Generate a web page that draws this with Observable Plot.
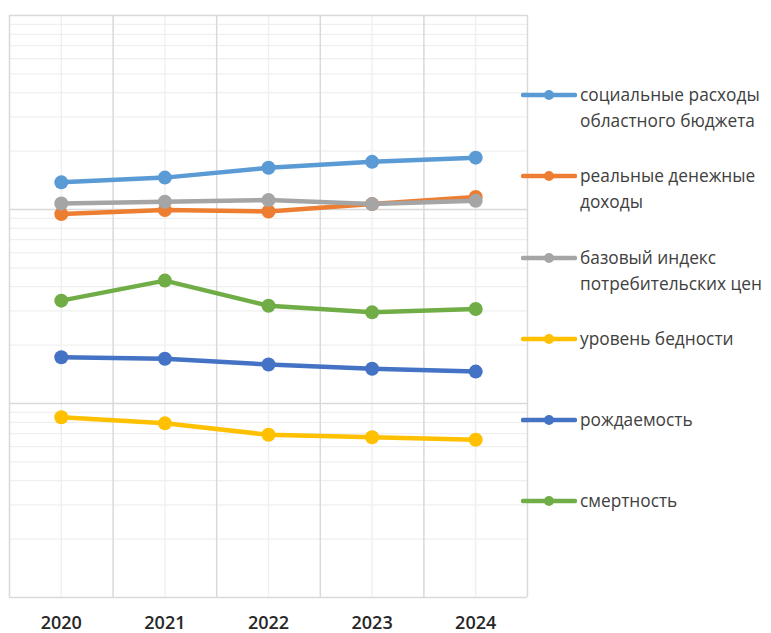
<!DOCTYPE html>
<html>
<head>
<meta charset="utf-8">
<script src="https://cdn.jsdelivr.net/npm/d3@7"></script>
<script src="https://cdn.jsdelivr.net/npm/@observablehq/plot@0.6"></script>
<style>
  html, body { margin: 0; padding: 0; background: #fff; }
  #wrap { position: relative; width: 771px; height: 633px; }
  #chart { position: absolute; left: 0; top: 0; }
  #legend { position: absolute; left: 521px; top: 82px; font-family: "Open Sans", sans-serif; font-size: 17.3px; color: #404040; }
  .item { display: flex; align-items: flex-start; height: 81.3px; }
  .item svg { flex: none; margin-top: 8px; margin-right: 3px; }
  .item span { line-height: 26px; white-space: nowrap; }
</style>
</head>
<body>
<div id="wrap">
  <div id="chart"></div>
  <div id="legend"></div>
</div>
<script>
const years = [2020, 2021, 2022, 2023, 2024];
const seriesNames = [
  "социальные расходы областного бюджета",
  "реальные денежные доходы",
  "базовый индекс потребительских цен",
  "уровень бедности",
  "рождаемость",
  "смертность"
];
const legendLines = [
  ["социальные расходы", "областного бюджета"],
  ["реальные денежные", "доходы"],
  ["базовый индекс", "потребительских цен"],
  ["уровень бедности"],
  ["рождаемость"],
  ["смертность"]
];
const seriesColors = ["#5B9BD5", "#ED7D31", "#A5A5A5", "#FFC000", "#4472C4", "#70AD47"];

const socialSpending = [138, 146, 164, 176, 185];
const realIncome = [94.7, 99.3, 97.7, 106.6, 116];
const cpiIndex = [107.4, 109.6, 111.8, 106.6, 110.8];
const povertyLevel = [8.5, 7.9, 6.9, 6.7, 6.5];
const birthRate = [17.3, 17.0, 15.9, 15.1, 14.6];
const mortality = [33.9, 43.0, 31.9, 29.5, 30.7];

const seriesValues = [socialSpending, realIncome, cpiIndex, povertyLevel, birthRate, mortality];

const data = [];
seriesNames.forEach((name, si) => {
  years.forEach((yr, i) => data.push({series: name, year: yr, value: seriesValues[si][i]}));
});

// log-axis gridlines (Excel style: decades major, 2..9 minor)
const majorY = [1, 10, 100, 1000];
const minorY = [];
for (const d of [1, 10, 100]) for (let k = 2; k <= 9; k++) minorY.push(d * k);
const boundaries = years.map(y => y - 0.5).concat([years[years.length - 1] + 0.5]);

const chart = Plot.plot({
  width: 540,
  height: 633,
  marginLeft: 9,
  marginRight: 13,
  marginTop: 15,
  marginBottom: 36,
  style: {fontFamily: "Open Sans, sans-serif", fontSize: "18px", color: "#262626", background: "transparent"},
  x: {domain: [2019.5, 2024.5], axis: null},
  y: {type: "log", domain: [1, 1000], axis: null},
  color: {domain: seriesNames, range: seriesColors},
  marks: [
    Plot.ruleY(minorY, {stroke: "#efefef", strokeWidth: 1.3}),
    Plot.ruleX(years, {stroke: "#efefef", strokeWidth: 1.3}),
    Plot.ruleX(boundaries, {stroke: "#d9d9d9", strokeWidth: 1.5}),
    Plot.ruleY(majorY, {stroke: "#d9d9d9", strokeWidth: 1.5}),
    Plot.axisX(years, {tickSize: 0, tickPadding: 19, tickFormat: d => String(d), label: null, fontWeight: 600, fontSize: 18, fill: "#262626"}),
    Plot.lineY(data, {x: "year", y: "value", z: "series", stroke: "series", strokeWidth: 4.5, strokeLinejoin: "round", strokeLinecap: "round"}),
    Plot.dot(data, {x: "year", y: "value", fill: "series", r: 7, stroke: "none"})
  ]
});
document.getElementById("chart").appendChild(chart);

const legend = document.getElementById("legend");
seriesNames.forEach((name, i) => {
  const item = document.createElement("div");
  item.className = "item";
  const c = seriesColors[i];
  item.innerHTML = `<svg width="56" height="10"><line x1="2" y1="5" x2="54" y2="5" stroke="${c}" stroke-width="4.5" stroke-linecap="round"/><circle cx="28" cy="5" r="5" fill="${c}"/></svg><span>${legendLines[i].join("<br>")}</span>`;
  legend.appendChild(item);
});
</script>
</body>
</html>
